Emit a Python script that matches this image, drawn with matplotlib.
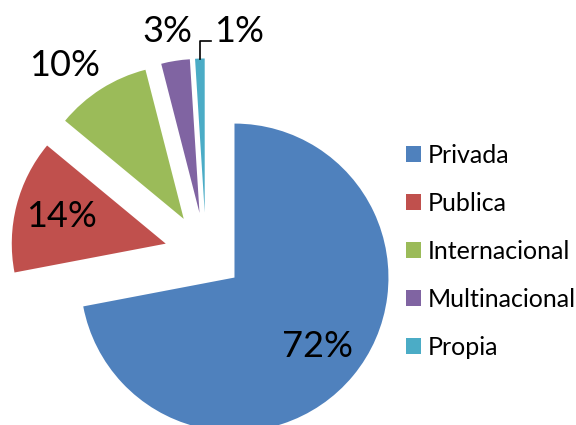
import matplotlib.pyplot as plt
from matplotlib.patches import Patch
import numpy as np

labels = ['Privada', 'Publica', 'Internacional', 'Multinacional', 'Propia']
values = [72, 14, 10, 3, 1]
colors = ['#4F81BD', '#C0504D', '#9BBB59', '#8064A2', '#4BACC6']
explode = [0.24, 0.27, 0.27, 0.27, 0.27]

plt.rcParams['font.family'] = ['Lato', 'DejaVu Sans']

fig = plt.figure(figsize=(5.76, 4.25), dpi=100)
ax = fig.add_axes([0, 0, 1, 1])

wedges, texts, autotexts = ax.pie(values, colors=colors, explode=explode, startangle=90,
                                  counterclock=False, autopct='%1.0f%%', pctdistance=0.7,
                                  wedgeprops=dict(linewidth=0),
                                  textprops=dict(fontsize=26, color='black'))

# small slices get their labels outside, like the original
autotexts[2].set_position((-0.916, 1.227))
autotexts[3].set_position((-0.253, 1.442))
autotexts[4].set_position((0.214, 1.448))

# leader line for the 1% slice
w = wedges[4]
mid = np.deg2rad((w.theta1 + w.theta2) / 2)
tip = (1 + explode[4]) * np.array([np.cos(mid), np.sin(mid)])
ax.plot([tip[0], tip[0], 0.032], [tip[1], 1.383, 1.383], color='black', lw=1.2)

ax.set_xlim(-1.338, 2.403)
ax.set_ylim(-1.110, 1.649)
ax.set_aspect('equal')
ax.axis('off')

handles = [Patch(facecolor=c, edgecolor='none') for c in colors]
fig.legend(handles, labels, loc='upper left', bbox_to_anchor=(0.665, 0.715), frameon=False,
           fontsize=18, handlelength=0.6, handleheight=0.6, handletextpad=0.3,
           labelspacing=1.0)

fig.savefig('out.png', dpi=100)
